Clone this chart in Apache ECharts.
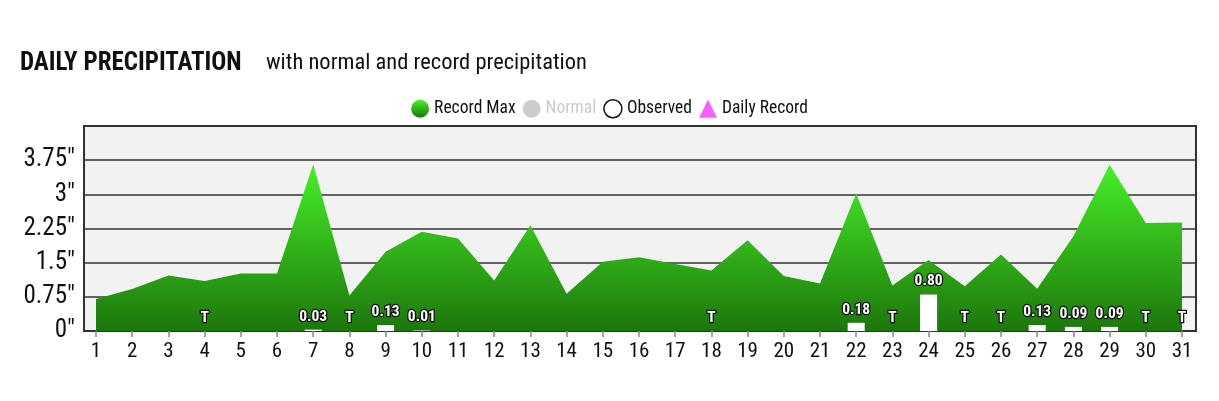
<!DOCTYPE html>
<html>
<head>
<meta charset="utf-8">
<title>Daily Precipitation</title>
<script src="https://cdn.jsdelivr.net/npm/echarts@6/dist/echarts.min.js"></script>
<style>
    html, body { margin: 0; padding: 0; background: #fff; }
    #chart { width: 1219px; height: 401px; }
</style>
</head>
<body>
<div id="chart"></div>
<script>
var days = [];
for (var d = 1; d <= 31; d++) days.push(d);

// record max per day (inches)
var recordMax = [0.70, 0.92, 1.22, 1.10, 1.26, 1.26, 3.66, 0.78, 1.74, 2.18,
    2.03, 1.11, 2.32, 0.82, 1.52, 1.62, 1.47, 1.33, 1.99, 1.21,
    1.04, 3.02, 1.00, 1.56, 0.98, 1.68, 0.93, 2.08, 3.65, 2.37, 2.38];

// observed: null = none, 'T' = trace
var observed = [null, null, null, 'T', null, null, 0.03, 'T', 0.13, 0.01,
    null, null, null, null, null, null, null, 'T', null, null,
    null, 0.18, 'T', 0.80, 'T', 'T', 0.13, 0.09, 0.09, 'T', 'T'];

var normal = [];
var dailyRecord = [];

var yTicks = [0, 0.75, 1.5, 2.25, 3, 3.75, 4.5];

var fontFamily = '"Roboto Condensed", "Liberation Sans Narrow", "DejaVu Sans Condensed", Roboto, sans-serif';

function getChart() {
    var recordData = days.map(function (d, i) { return [d, recordMax[i]]; });
    var obsData = days.map(function (d, i) {
        var v = observed[i];
        if (v === null) return [d, null];
        return [d, v === 'T' ? 0 : v];
    });

    var green = new echarts.graphic.LinearGradient(0, 0, 0, 1, [
        { offset: 0, color: '#46f028' },
        { offset: 1, color: '#1d760c' }
    ]);

    var option = {
        animation: false,
        textStyle: { fontFamily: fontFamily },
        title: [
            {
                text: 'DAILY PRECIPITATION',
                left: 20, top: 51, padding: 0,
                textStyle: { fontSize: 25, fontWeight: 'bold', color: '#111', fontFamily: fontFamily }
            },
            {
                text: 'with normal and record precipitation',
                left: 266, top: 52, padding: 0,
                textStyle: { fontSize: 22.5, fontWeight: 'normal', color: '#111', fontFamily: fontFamily }
            }
        ],
        legend: {
            left: 'center',
            top: 94,
            itemWidth: 18,
            itemHeight: 18,
            itemGap: 7,
            inactiveColor: '#ccc',
            textStyle: { fontSize: 17.5, color: '#111', fontFamily: fontFamily },
            selected: { 'Normal': false },
            data: [
                { name: 'Record Max', icon: 'circle' },
                { name: 'Normal', icon: 'circle' },
                { name: 'Observed', icon: 'circle', itemStyle: { color: '#fff', borderColor: '#111', borderWidth: 1.5 } },
                { name: 'Daily Record', icon: 'triangle' }
            ]
        },
        grid: [
            {
                left: 84, right: 23, top: 126, bottom: 70,
                show: true,
                backgroundColor: '#f2f2f2',
                borderColor: '#333',
                borderWidth: 2
            },
            {
                left: 59.8, right: 0.8, top: 126, bottom: 70
            }
        ],
        xAxis: [
            { gridIndex: 0, type: 'value', min: 0, max: 1, show: false },
            {
                gridIndex: 1, type: 'value', min: 0, max: 32,
                axisLine: { show: false },
                splitLine: { show: false },
                axisTick: { show: true, customValues: days, length: 6, lineStyle: { color: '#888', width: 1.5 } },
                axisLabel: { customValues: days, fontSize: 21, color: '#111', margin: 10, fontFamily: fontFamily }
            }
        ],
        yAxis: [
            {
                gridIndex: 0, type: 'value', min: 0, max: 4.5, interval: 0.75,
                axisLine: { show: false },
                axisTick: { show: false },
                splitLine: { lineStyle: { color: '#333', width: 1.5 } },
                axisLabel: {
                    fontSize: 25, color: '#111', margin: 9, fontFamily: fontFamily,
                    formatter: function (v) { return v === yTicks[yTicks.length - 1] ? '' : v + '"'; }
                }
            },
            { gridIndex: 1, type: 'value', min: 0, max: 4.5, show: false }
        ],
        series: [
            {
                name: 'Record Max',
                type: 'line',
                xAxisIndex: 1, yAxisIndex: 1,
                data: recordData,
                symbol: 'none',
                z: 2,
                itemStyle: { color: green },
                lineStyle: { width: 0 },
                areaStyle: { color: green, opacity: 1 }
            },
            {
                name: 'Normal',
                type: 'line',
                xAxisIndex: 1, yAxisIndex: 1,
                data: normal,
                symbol: 'none',
                z: 3,
                itemStyle: { color: '#ccc' }
            },
            {
                name: 'Observed',
                type: 'bar',
                xAxisIndex: 1, yAxisIndex: 1,
                data: obsData,
                barWidth: 17,
                z: 4,
                itemStyle: { color: '#fff' },
                label: {
                    show: true,
                    position: 'top',
                    distance: 5,
                    fontSize: 15.5,
                    fontWeight: 'bold',
                    color: '#fff',
                    textBorderColor: '#111',
                    textBorderWidth: 2.5,
                    fontFamily: fontFamily,
                    formatter: function (p) {
                        var v = observed[p.dataIndex];
                        if (v === null) return '';
                        return v === 'T' ? 'T' : v.toFixed(2);
                    }
                }
            },
            {
                name: 'Daily Record',
                type: 'scatter',
                xAxisIndex: 1, yAxisIndex: 1,
                data: dailyRecord,
                symbol: 'triangle',
                symbolSize: 14,
                z: 5,
                itemStyle: { color: '#ff33ff' }
            }
        ]
    };

    var myChart = echarts.init(document.getElementById('chart'));
    myChart.setOption(option);
}

getChart();
</script>
</body>
</html>
